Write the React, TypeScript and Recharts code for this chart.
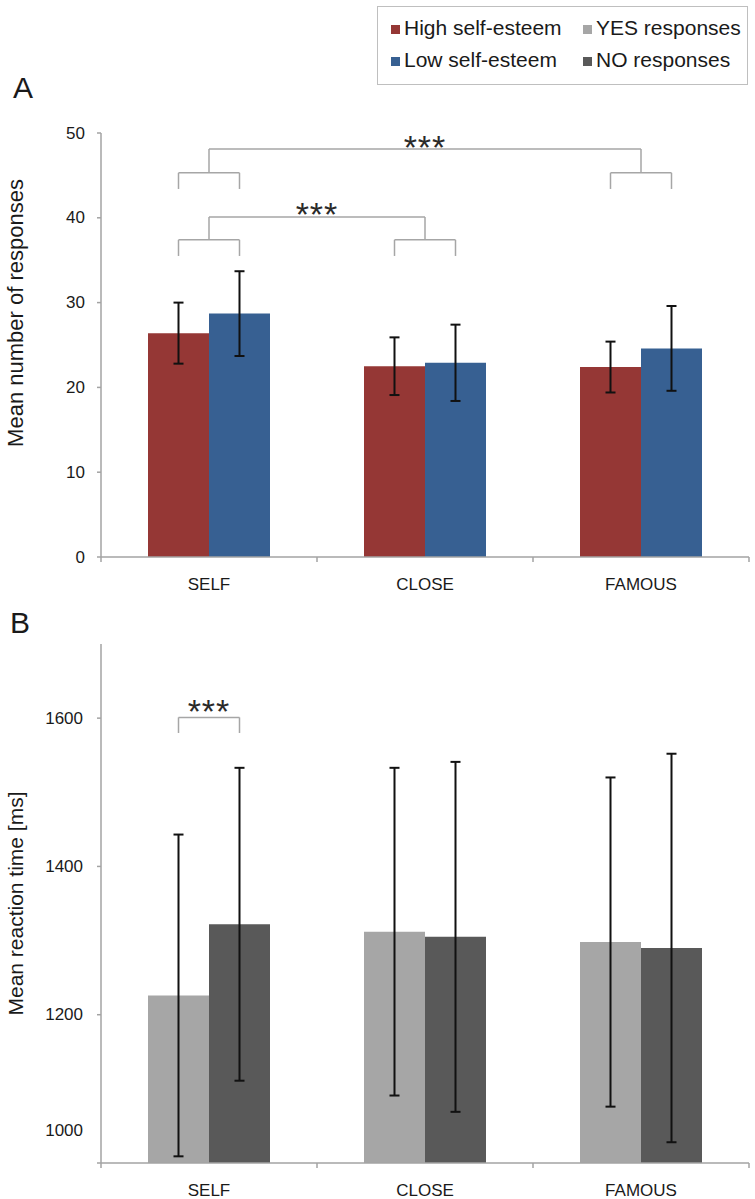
import React from "react";
import { BarChart, Bar, XAxis, YAxis, ErrorBar, ReferenceLine, ReferenceDot } from "recharts";

const CATEGORIES = ["SELF", "CLOSE", "FAMOUS"];

// panel A: mean number of responses
const HIGH_SE = [26.4, 22.5, 22.4];
const HIGH_SE_ERR = [3.6, 3.4, 3.0];
const LOW_SE = [28.7, 22.9, 24.6];
const LOW_SE_ERR = [5.0, 4.5, 5.0];
const A_TICKS = [0, 10, 20, 30, 40, 50];

// panel B: mean reaction time
const YES_RT = [1226, 1312, 1298];
const YES_RT_ERR = [217, 221, 222];
const NO_RT = [1322, 1305, 1290];
const NO_RT_ERR = [211, 236, 262];
const B_TICKS = [1000, 1200, 1400, 1600];

// significance brackets (category index, levels in data units)
const A_PAIRS = [
  { cat: 0, top: 37.4, drop: 35.5 },
  { cat: 1, top: 37.4, drop: 35.5 },
  { cat: 0, top: 45.3, drop: 43.4 },
  { cat: 2, top: 45.3, drop: 43.4 },
];
const A_LINKS = [
  { from: 0, to: 1, base: 37.4, level: 40.1, star: 41.3 },
  { from: 0, to: 2, base: 45.3, level: 48.1, star: 49.2 },
];
const B_PAIRS = [{ cat: 0, top: 1601, drop: 1580 }];
const B_STARS = [{ cat: 0, star: 1619 }];

const SERIES_A = [
  { key: "high", err: "highErr", name: "High self-esteem", color: "#953735" },
  { key: "low", err: "lowErr", name: "Low self-esteem", color: "#376092" },
];
const SERIES_B = [
  { key: "yes", err: "yesErr", name: "YES responses", color: "#A6A6A6" },
  { key: "no", err: "noErr", name: "NO responses", color: "#595959" },
];

const dataA = CATEGORIES.map((name, i) => ({
  name,
  slot: i + 0.5,
  high: HIGH_SE[i],
  highErr: HIGH_SE_ERR[i],
  low: LOW_SE[i],
  lowErr: LOW_SE_ERR[i],
}));
const dataB = CATEGORIES.map((name, i) => ({
  name,
  slot: i + 0.5,
  yes: YES_RT[i],
  yesErr: YES_RT_ERR[i],
  no: NO_RT[i],
  noErr: NO_RT_ERR[i],
}));

const FONT = '"Liberation Sans", Arial, Helvetica, sans-serif';
const AXIS = "#A3A3A3";
const BRACKET = "#A6A6A6";
const TEXT = "#1a1a1a";
const GAP = 0.2176;
const W = 755;
const M_LEFT = 101;
const M_RIGHT = 6;
const BAND = (W - M_LEFT - M_RIGHT) / CATEGORIES.length;

// centre of a bar inside a category, on the hidden 0..3 axis
const barCenter = (cat: number, side: number) => {
  const w = (1 - 2 * GAP) / 2;
  return cat + GAP + w * side + w / 2;
};

const seg = (key: string, x1: number, y1: number, x2: number, y2: number) => (
  <ReferenceLine
    key={key}
    xAxisId="num"
    segment={[{ x: x1, y: y1 }, { x: x2, y: y2 }]}
    stroke={BRACKET}
    strokeWidth={1.5}
    ifOverflow="visible"
  />
);

const pairLines = (pairs: { cat: number; top: number; drop: number }[], id: string) =>
  pairs.flatMap((p, i) => {
    const l = barCenter(p.cat, 0);
    const r = barCenter(p.cat, 1);
    return [
      seg(`${id}p${i}a`, l, p.drop, l, p.top),
      seg(`${id}p${i}b`, l, p.top, r, p.top),
      seg(`${id}p${i}c`, r, p.top, r, p.drop),
    ];
  });

const linkLines = (links: typeof A_LINKS, id: string) =>
  links.flatMap((k, i) => [
    seg(`${id}k${i}a`, k.from + 0.5, k.base, k.from + 0.5, k.level),
    seg(`${id}k${i}b`, k.from + 0.5, k.level, k.to + 0.5, k.level),
    seg(`${id}k${i}c`, k.to + 0.5, k.level, k.to + 0.5, k.base),
  ]);

const Stars = (props: any) => {
  const vb = props.viewBox || {};
  const cx = (vb.x || 0) + (vb.width || 0) / 2;
  const cy = (vb.y || 0) + (vb.height || 0) / 2;
  return (
    <text x={cx} y={cy + 19} textAnchor="middle" fontSize={34} letterSpacing={1} fill="#2a2a2a" fontFamily={FONT}>
      ***
    </text>
  );
};

const starDot = (key: string, x: number, y: number) => (
  <ReferenceDot key={key} xAxisId="num" x={x} y={y} r={0} fill="none" stroke="none" ifOverflow="visible" label={<Stars />} />
);

const YTick = (props: any) => {
  const { x, y, payload, low, lift = 0 } = props;
  const dy = low !== undefined && payload.value === low ? -lift : 0;
  return (
    <text x={x} y={y + dy} textAnchor="end" dominantBaseline="central" fontSize={17} fill={TEXT} fontFamily={FONT}>
      {payload.value}
    </text>
  );
};

const XTick = (props: any) => {
  const { x, y, payload, index, visibleTicksCount } = props;
  const half = BAND / 2;
  return (
    <g>
      <line x1={x - half} x2={x - half} y1={y} y2={y + 5} stroke={AXIS} strokeWidth={1.5} />
      {index === visibleTicksCount - 1 && (
        <line x1={x + half} x2={x + half} y1={y} y2={y + 5} stroke={AXIS} strokeWidth={1.5} />
      )}
      <text x={x} y={y + 33} textAnchor="middle" fontSize={17} fill={TEXT} fontFamily={FONT}>
        {payload.value}
      </text>
    </g>
  );
};

const YTitle = (props: any) => {
  const vb = props.viewBox || {};
  const cx = (vb.x || 0) + 15;
  const cy = (vb.y || 0) + (vb.height || 0) / 2 + (props.shift || 0);
  return (
    <text
      x={cx}
      y={cy}
      transform={`rotate(-90, ${cx}, ${cy})`}
      textAnchor="middle"
      dominantBaseline="central"
      fontSize={props.size || 22}
      fill={TEXT}
      fontFamily={FONT}
    >
      {props.text}
    </text>
  );
};

const LEGEND_ROWS = [
  [SERIES_A[0], SERIES_B[0]],
  [SERIES_A[1], SERIES_B[1]],
];

function LegendBox() {
  const cols = [14, 206];
  const baselines = [29, 61];
  return (
    <div
      style={{
        position: "absolute",
        left: 377,
        top: 6,
        width: 371,
        height: 79,
        boxSizing: "border-box",
        border: "1px solid #BFBFBF",
        background: "#fff",
        fontFamily: FONT,
        fontSize: 21,
        color: TEXT,
      }}
    >
      {LEGEND_ROWS.map((row, r) =>
        row.map((s, c) => (
          <div key={s.key} style={{ position: "absolute", left: cols[c] - 1, top: baselines[r] - 20, lineHeight: "24px", whiteSpace: "nowrap" }}>
            <span
              style={{
                display: "inline-block",
                width: 9,
                height: 9,
                background: s.color,
                marginRight: 4,
                verticalAlign: "baseline",
                marginBottom: 1,
              }}
            />
            {s.name}
          </div>
        ))
      )}
    </div>
  );
}

const letterStyle = (top: number, left: number): React.CSSProperties => ({
  position: "absolute",
  top,
  left,
  fontFamily: FONT,
  fontSize: 30,
  lineHeight: "30px",
  color: TEXT,
});

const numAxis = (
  <XAxis xAxisId="num" dataKey="slot" type="number" domain={[0, CATEGORIES.length]} hide allowDataOverflow />
);

export default function App() {
  return (
    <div style={{ position: "absolute", left: 0, top: 0, width: W, height: 1199, background: "#fff", fontFamily: FONT }}>
      <LegendBox />
      <div style={letterStyle(73, 13)}>A</div>
      <div style={letterStyle(608, 10)}>B</div>

      <div style={{ position: "absolute", left: 0, top: 0 }}>
        <BarChart
          width={W}
          height={600}
          data={dataA}
          margin={{ top: 133, right: M_RIGHT, bottom: 13, left: 0 }}
          barCategoryGap={`${GAP * 100}%`}
          barGap={0}
        >
          <XAxis
            xAxisId="cat"
            dataKey="name"
            height={30}
            interval={0}
            tickLine={false}
            tickSize={0}
            tickMargin={0}
            axisLine={{ stroke: AXIS, strokeWidth: 1.5 }}
            tick={<XTick />}
          />
          {numAxis}
          <YAxis
            width={M_LEFT}
            domain={[0, 50]}
            ticks={A_TICKS}
            interval={0}
            allowDataOverflow
            tickSize={4}
            tickMargin={12}
            axisLine={{ stroke: AXIS, strokeWidth: 1.5 }}
            tickLine={{ stroke: AXIS, strokeWidth: 1.5 }}
            tick={<YTick />}
            label={<YTitle text="Mean number of responses" shift={-32} size={22} />}
          />
          {SERIES_A.map((s) => (
            <Bar key={s.key} xAxisId="cat" dataKey={s.key} name={s.name} fill={s.color} isAnimationActive={false}>
              <ErrorBar dataKey={s.err} direction="y" width={5} strokeWidth={2} stroke="#111" />
            </Bar>
          ))}
          {pairLines(A_PAIRS, "a")}
          {linkLines(A_LINKS, "a")}
          {A_LINKS.map((k, i) => starDot(`as${i}`, (k.from + k.to) / 2 + 0.5, k.star))}
        </BarChart>
      </div>

      <div style={{ position: "absolute", left: 0, top: 600 }}>
        <BarChart
          width={W}
          height={599}
          data={dataB}
          margin={{ top: 44, right: M_RIGHT, bottom: 6, left: 0 }}
          barCategoryGap={`${GAP * 100}%`}
          barGap={0}
        >
          <XAxis
            xAxisId="cat"
            dataKey="name"
            height={30}
            interval={0}
            tickLine={false}
            tickSize={0}
            tickMargin={0}
            axisLine={{ stroke: AXIS, strokeWidth: 1.5 }}
            tick={<XTick />}
          />
          {numAxis}
          <YAxis
            width={M_LEFT}
            domain={[1000, 1700]}
            ticks={B_TICKS}
            interval={0}
            allowDataOverflow
            tickSize={4}
            tickMargin={14}
            axisLine={{ stroke: AXIS, strokeWidth: 1.5 }}
            tickLine={{ stroke: AXIS, strokeWidth: 1.5 }}
            tick={<YTick low={1000} lift={33} />}
            label={<YTitle text="Mean reaction time [ms]" shift={0} size={21} />}
          />
          {SERIES_B.map((s) => (
            <Bar key={s.key} xAxisId="cat" dataKey={s.key} name={s.name} fill={s.color} isAnimationActive={false}>
              <ErrorBar dataKey={s.err} direction="y" width={5} strokeWidth={2} stroke="#111" />
            </Bar>
          ))}
          {pairLines(B_PAIRS, "b")}
          {B_STARS.map((s, i) => starDot(`bs${i}`, s.cat + 0.5, s.star))}
        </BarChart>
      </div>
    </div>
  );
}
